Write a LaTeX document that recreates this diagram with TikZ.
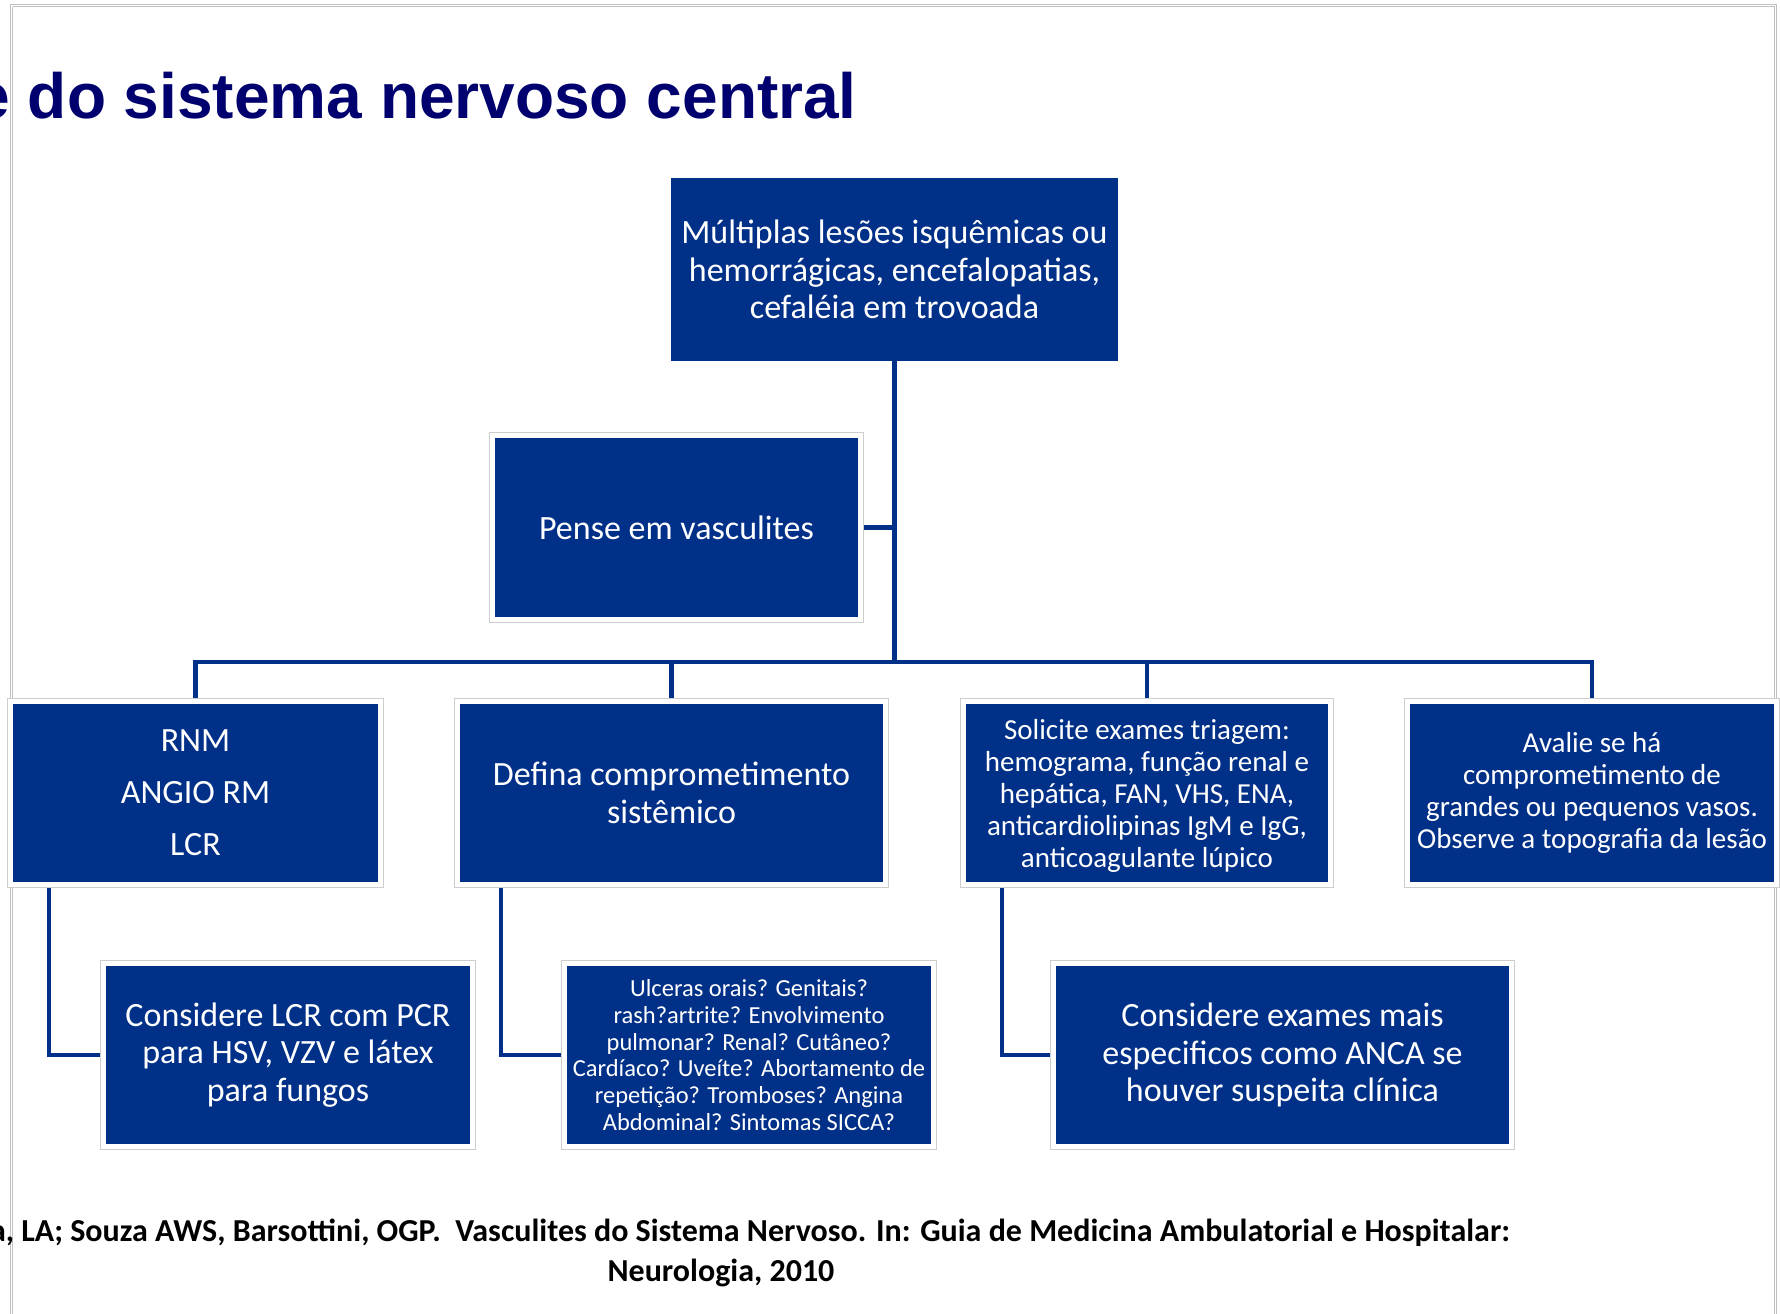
\documentclass[tikz,border=0pt]{standalone}
\usepackage{fontspec}
\setmainfont{Carlito}
\newfontfamily\titlefont{Liberation Sans}
\usetikzlibrary{backgrounds,calc}
\definecolor{boxblue}{RGB}{0,48,135}
\definecolor{titleblue}{RGB}{0,0,110}
\definecolor{rimgray}{RGB}{205,205,205}
\definecolor{framegray}{RGB}{192,192,192}
\begin{document}
\begin{tikzpicture}[x=1pt,y=-1pt,
  box/.style={fill=boxblue, text=white, align=center, inner sep=0pt, minimum height=178pt},
  big/.style={font=\fontsize{34}{37.5}\selectfont},
  mid/.style={font=\fontsize{29}{32}\selectfont},
  small/.style={font=\fontsize{24.5}{26.8}\selectfont},
  link/.style={draw=boxblue, line width=4.2pt},
  rim/.style={draw=rimgray, line width=1.2pt, fill=white},
  frame/.style={draw=framegray, line width=1pt}]
\useasboundingbox (0,0) rectangle (1780,1314);

% slide title
\node[anchor=base east, inner sep=0pt, text=titleblue,
      font=\titlefont\bfseries\fontsize{64}{70}\selectfont] (title) at (857,118)
  {e do sistema nervoso central};

% flowchart boxes
\node[box, big, minimum width=447pt, minimum height=183pt] (top) at (894.5,269.5)
  {Múltiplas lesões isquêmicas ou\\hemorrágicas, encefalopatias,\\cefaléia em trovoada};
\node[box, big, minimum width=363pt, minimum height=179pt] (pense) at (676.5,527.5)
  {Pense em vasculites};

\node[box, big, minimum width=365pt] (rnm) at (195.5,793)
  {RNM\\[14.5pt]ANGIO RM\\[14.5pt]LCR};
\node[box, big, minimum width=423pt] (defina) at (671.5,793)
  {Defina comprometimento\\sistêmico};
\node[box, mid, minimum width=362pt, text depth=0pt] (solicite) at (1147,793)
  {\raisebox{0pt}[\height][0pt]{}Solicite exames triagem:\\hemograma, função renal e\\hepática, FAN, VHS, ENA,\\anticardiolipinas IgM e IgG,\\anticoagulante lúpico};
\node[box, mid, minimum width=364pt] (avalie) at (1592,793)
  {Avalie se há\\comprometimento de\\grandes ou pequenos vasos.\\Observe a topografia da lesão};

\node[box, big, minimum width=364pt] (lcr) at (288,1055)
  {Considere LCR com PCR\\para HSV, VZV e látex\\para fungos};
\node[box, small, minimum width=364pt] (ulceras) at (749,1055)
  {Ulceras orais? Genitais?\\rash?artrite? Envolvimento\\pulmonar? Renal? Cutâneo?\\Cardíaco? Uveíte? Abortamento de\\repetição? Tromboses? Angina\\Abdominal? Sintomas SICCA?};
\node[box, big, minimum width=453pt] (anca) at (1282.5,1055)
  {Considere exames mais\\especificos como ANCA se\\houver suspeita clínica};

% reference
\node[anchor=base east, inner sep=0pt, font=\bfseries\fontsize{32}{38}\selectfont] (ref1) at (1510,1241)
  {a, LA; Souza AWS, Barsottini, OGP.~ Vasculites do Sistema Nervoso. In: Guia de Medicina Ambulatorial e Hospitalar:};
\node[anchor=base, inner sep=0pt, font=\bfseries\fontsize{32}{38}\selectfont] (ref2) at (721,1281)
  {Neurologia, 2010};

\begin{scope}[on background layer]
  % slide frame
  \draw[frame] (10,4.3) -- (1776.7,4.3) -- (1776.7,1320);
  \draw[frame] (10,4.3) -- (10,1320);
  \draw[frame] (12.5,6.7) -- (1774.3,6.7) -- (1774.3,1320);
  \draw[frame] (12.5,6.7) -- (12.5,1320);

  % connectors
  \coordinate (busy) at (0,662);
  \coordinate (hub) at (top.south |- busy);
  \draw[link] (top.south) -- (hub);
  \draw[link] (pense.east) -- (pense.east -| hub);
  \draw[link] (rnm.north) |- (hub) -| (avalie.north);
  \draw[link] (hub -| defina.north) -- (defina.north);
  \draw[link] (hub -| solicite.north) -- (solicite.north);
  \draw[link] ([xshift=36pt]rnm.south west) |- (lcr.west);
  \draw[link] ([xshift=41pt]defina.south west) |- (ulceras.west);
  \draw[link] ([xshift=36pt]solicite.south west) |- (anca.west);

  % white rims with grey outline around the boxes
  \foreach \n in {pense,rnm,defina,solicite,avalie,lcr,ulceras,anca}
    \draw[rim] ([shift={(-5pt,5pt)}]\n.north west) rectangle ([shift={(5pt,-5pt)}]\n.south east);
\end{scope}
\end{tikzpicture}
\end{document}
